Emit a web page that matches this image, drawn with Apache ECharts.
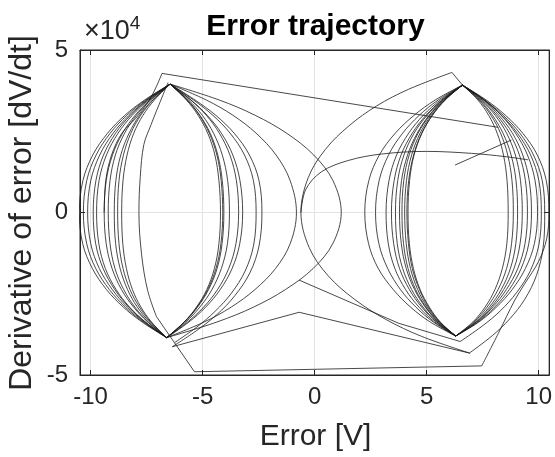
<!DOCTYPE html>
<html>
<head>
<meta charset="utf-8">
<script src="https://cdn.jsdelivr.net/npm/echarts@6/dist/echarts.min.js"></script>
<style>
  html, body { margin: 0; padding: 0; background: #ffffff; }
  #chart { width: 555px; height: 457px; }
</style>
</head>
<body>
<div id="chart"></div>
<script>
// Phase-plane trajectory of the regulation error.
// x: error e [V], y: de/dt in units of 1e4 V/s.

const xTicks = [-10, -5, 0, 5, 10];
const yTicks = [-5, 0, 5];

// Sample heights (de/dt) shared by the closed arcs of each lobe, bottom cusp to top cusp.
const leftLobeLevels  = [-3.85, -3.37, -2.91, -2.37, -1.72, -0.96, 0, 0.98, 1.77, 2.44, 2.99, 3.46, 3.95];
const rightLobeLevels = [-3.8, -3.37, -2.91, -2.37, -1.72, -0.96, 0, 0.98, 1.77, 2.44, 2.99, 3.46, 3.92];

// Left lobe, outer arcs: error at each level.
const leftLobeOuterX = [
  [-6.6, -7.70, -8.54, -9.29, -9.92, -10.35, -10.5, -10.34, -9.90, -9.24, -8.47, -7.59, -6.45],
  [-6.6, -7.65, -8.45, -9.16, -9.77, -10.17, -10.32, -10.17, -9.75, -9.12, -8.38, -7.54, -6.45],
  [-6.6, -7.60, -8.36, -9.03, -9.61, -9.99, -10.13, -9.99, -9.59, -8.99, -8.28, -7.49, -6.45],
  [-6.6, -7.56, -8.29, -8.92, -9.44, -9.77, -9.88, -9.76, -9.42, -8.88, -8.22, -7.46, -6.45],
  [-6.6, -7.55, -8.26, -8.86, -9.34, -9.63, -9.73, -9.62, -9.29, -8.77, -8.14, -7.41, -6.45],
  [-6.6, -7.45, -8.08, -8.62, -9.04, -9.30, -9.39, -9.30, -9.02, -8.57, -8.01, -7.35, -6.45],
  [-6.6, -7.42, -8.02, -8.52, -8.91, -9.13, -9.21, -9.13, -8.89, -8.48, -7.95, -7.32, -6.45],
  [-6.6, -7.36, -7.91, -8.35, -8.68, -8.88, -8.94, -8.87, -8.65, -8.28, -7.81, -7.24, -6.45],
  [-6.6, -7.31, -7.82, -8.24, -8.55, -8.73, -8.79, -8.73, -8.53, -8.20, -7.76, -7.21, -6.45],
  [-6.6, -7.28, -7.75, -8.13, -8.40, -8.56, -8.61, -8.55, -8.37, -8.07, -7.66, -7.15, -6.45]
];

// Left lobe, inner arcs.
const leftLobeInnerX = [
  [-6.6, -5.82, -5.27, -4.81, -4.47, -4.27, -4.2, -4.27, -4.45, -4.77, -5.20, -5.72, -6.45],
  [-6.6, -5.82, -5.25, -4.77, -4.40, -4.18, -4.1, -4.17, -4.36, -4.70, -5.14, -5.69, -6.45],
  [-6.6, -5.80, -5.22, -4.73, -4.35, -4.13, -4.05, -4.12, -4.32, -4.66, -5.12, -5.67, -6.45],
  [-6.6, -5.75, -5.12, -4.58, -4.16, -3.89, -3.8, -3.88, -4.12, -4.51, -5.01, -5.62, -6.45],
  [-6.6, -5.67, -4.95, -4.33, -3.83, -3.51, -3.39, -3.49, -3.78, -4.25, -4.83, -5.53, -6.45],
  [-6.6, -5.61, -4.86, -4.21, -3.68, -3.34, -3.21, -3.33, -3.65, -4.16, -4.79, -5.51, -6.45]
];

// Right lobe, inner arcs.
const rightLobeInnerX = [
  [6.3, 5.61, 5.12, 4.71, 4.41, 4.23, 4.17, 4.24, 4.44, 4.79, 5.25, 5.81, 6.6],
  [6.3, 5.59, 5.08, 4.68, 4.36, 4.19, 4.12, 4.20, 4.42, 4.78, 5.26, 5.83, 6.6],
  [6.3, 5.56, 5.03, 4.60, 4.28, 4.09, 4.02, 4.10, 4.33, 4.71, 5.20, 5.79, 6.6],
  [6.3, 5.52, 4.97, 4.51, 4.17, 3.97, 3.90, 3.98, 4.22, 4.62, 5.14, 5.75, 6.6],
  [6.3, 5.52, 4.94, 4.46, 4.09, 3.87, 3.79, 3.88, 4.15, 4.58, 5.11, 5.75, 6.6],
  [6.3, 5.46, 4.84, 4.33, 3.93, 3.69, 3.61, 3.71, 3.99, 4.44, 5.02, 5.70, 6.6],
  [6.3, 5.43, 4.78, 4.23, 3.79, 3.53, 3.43, 3.55, 3.86, 4.36, 4.97, 5.68, 6.6],
  [6.3, 5.36, 4.66, 4.06, 3.58, 3.29, 3.19, 3.32, 3.66, 4.20, 4.85, 5.61, 6.6],
  [6.3, 5.30, 4.52, 3.83, 3.26, 2.87, 2.72, 2.88, 3.30, 3.93, 4.67, 5.51, 6.6],
  [6.3, 5.16, 4.28, 3.51, 2.84, 2.41, 2.24, 2.42, 2.89, 3.60, 4.44, 5.38, 6.6]
];

// Right lobe, outer arcs.
const rightLobeOuterX = [
  [6.3, 7.06, 7.61, 8.05, 8.38, 8.58, 8.64, 8.59, 8.43, 8.15, 7.77, 7.29, 6.6],
  [6.3, 7.11, 7.70, 8.19, 8.57, 8.79, 8.87, 8.81, 8.62, 8.30, 7.87, 7.34, 6.6],
  [6.3, 7.17, 7.80, 8.33, 8.74, 8.98, 9.06, 8.99, 8.77, 8.41, 7.94, 7.38, 6.6],
  [6.3, 7.21, 7.88, 8.44, 8.90, 9.17, 9.27, 9.19, 8.96, 8.57, 8.06, 7.44, 6.6],
  [6.3, 7.24, 7.95, 8.56, 9.07, 9.39, 9.5, 9.41, 9.14, 8.70, 8.14, 7.48, 6.6],
  [6.3, 7.29, 8.04, 8.69, 9.22, 9.56, 9.68, 9.58, 9.29, 8.83, 8.23, 7.54, 6.6],
  [6.3, 7.33, 8.12, 8.82, 9.41, 9.81, 9.95, 9.84, 9.50, 8.97, 8.33, 7.58, 6.6]
];

// Arcs whose ends leave the usual cusps, given as (error, de/dt) pairs.
const strayArcs = [
  [[-6.24,-4.0],[-5.25,-3.52],[-4.44,-3.04],[-3.71,-2.48],[-3.10,-1.8],[-2.72,-1.0],[-2.61,0],[-2.73,0.98],[-3.13,1.77],[-3.77,2.44],[-4.54,2.99],[-5.40,3.46],[-6.45,3.95]],
  [[-6.35,-4.13],[-5.26,-3.63],[-4.36,-3.14],[-3.56,-2.56],[-2.89,-1.86],[-2.48,-1.03],[-2.35,0],[-2.48,0.98],[-2.91,1.77],[-3.59,2.44],[-4.41,2.99],[-5.33,3.46],[-6.45,3.95]],
  [[6.5,-3.97],[7.49,-3.49],[8.30,-3.02],[9.02,-2.46],[9.63,-1.79],[10.01,-0.99],[10.12,0],[10.01,0.98],[9.64,1.77],[9.05,2.44],[8.35,2.99],[7.56,3.46],[6.6,3.92]],
  [[6.94,-4.31],[7.93,-3.79],[8.70,-3.28],[9.38,-2.67],[9.90,-1.94],[10.20,-1.08],[10.27,0],[10.16,0.98],[9.77,1.77],[9.16,2.44],[8.42,2.99],[7.60,3.46],[6.6,3.92]],
  [[7.46,-4.72],[8.2,-3.72],[8.94,-2.69],[9.39,-2.18],[10.0,-1.5],[10.36,-0.8],[10.46,0],[10.34,0.98],[9.94,1.77],[9.29,2.44],[8.52,2.99],[7.66,3.46],[6.6,3.92]],
  [[-6.6,-3.85],[-4.93,-3.37],[-3.72,-2.91],[-2.66,-2.37],[-1.74,-1.72],[-1.09,-0.96],[-0.81,0],[-1.09,0.98],[-1.72,1.77],[-2.61,2.44],[-3.64,2.99],[-4.83,3.46],[-6.45,3.95]],
  [[-6.6,-3.85],[-4.36,-3.37],[-2.72,-2.91],[-1.30,-2.37],[-0.06,-1.72],[0.81,-0.96],[1.19,0],[0.82,0.98],[-0.04,1.77],[-1.25,2.44],[-2.65,2.99],[-4.25,3.46],[-6.45,3.95]],
  [[6.94,-4.33],[4.77,-3.81],[3.18,-3.29],[1.80,-2.68],[0.61,-1.95],[-0.24,-1.08],[-0.61,0],[-0.28,1.08],[0.48,1.94],[1.54,2.67],[2.77,3.28],[4.19,3.79],[6.13,4.31]],
  [[-0.61,0],[-0.4,0.7],[0.3,1.25],[1.5,1.6],[3.0,1.8],[5.0,1.88],[7.0,1.82],[8.5,1.72],[9.53,1.62]],
  [[-7.06,-3.2],[-7.45,-2.4],[-7.72,-1.3],[-7.84,0],[-7.78,1.1],[-7.62,2.09],[-7.3,2.7],[-7.06,3.12],[-6.54,4.0]],
  [[-9.39,0],[-9.32,0.98],[-9.06,1.77],[-8.6,2.44],[-7.98,2.9],[-7.3,3.55],[-6.81,4.28]]
];

// Coarse steps drawn as straight segments.
const jumpSegments = [
  [[-6.81,4.28],[8.2,2.62]],
  [[6.13,4.31],[6.6,3.92]],
  [[7.46,-4.72],[-5.36,-4.9],[-7.06,-3.2]],
  [[6.27,1.46],[8.78,2.23]],
  [[6.94,-4.33],[-0.69,-3.07],[-6.35,-4.13]],
  [[6.5,-3.97],[3.76,-3.41],[-0.69,-2.08]]
];

const traceColor = '#1a1a1a';
const fontFamily = '"Liberation Sans", Arial, Helvetica, sans-serif';

function zipLevels(xLists, levels) {
  return xLists.map(function (xs) {
    return xs.map(function (x, i) { return [x, levels[i]]; });
  });
}

function lineSeries(list, smooth) {
  return list.map(function (pts) {
    return {
      type: 'line',
      data: pts,
      smooth: smooth,
      showSymbol: false,
      symbol: 'none',
      silent: true,
      clip: true,
      lineStyle: { color: traceColor, width: 0.8 },
      animation: false
    };
  });
}

const series = [].concat(
  lineSeries(zipLevels(leftLobeOuterX, leftLobeLevels), 0.35),
  lineSeries(zipLevels(leftLobeInnerX, leftLobeLevels), 0.35),
  lineSeries(zipLevels(rightLobeInnerX, rightLobeLevels), 0.35),
  lineSeries(zipLevels(rightLobeOuterX, rightLobeLevels), 0.35),
  lineSeries(strayArcs, 0.35),
  lineSeries(jumpSegments, false)
);

const plotLeft = 80, plotTop = 50, plotWidth = 471, plotHeight = 325;

const chart = echarts.init(document.getElementById('chart'), null, { renderer: 'canvas' });

const axisLineStyle = { color: '#262626', width: 1 };

function frameAxis(extra) {
  return Object.assign({
    type: 'value',
    axisLine: { show: true, onZero: false, lineStyle: axisLineStyle },
    axisTick: { show: true, inside: true, length: 5, lineStyle: axisLineStyle },
    axisLabel: { show: false },
    splitLine: { show: false }
  }, extra);
}

chart.setOption({
  animation: false,
  backgroundColor: '#ffffff',
  grid: {
    left: plotLeft, top: plotTop, width: plotWidth, height: plotHeight,
    show: true, borderColor: '#262626', borderWidth: 1, backgroundColor: 'transparent'
  },
  xAxis: [
    frameAxis({
      min: -10.47, max: 10.47, splitNumber: 4,
      axisLabel: {
        show: true, color: '#262626', fontSize: 24, fontFamily: fontFamily, margin: 10,
        showMinLabel: false, showMaxLabel: false,
        formatter: function (v) { return xTicks.indexOf(v) >= 0 ? String(v) : ''; }
      },
      splitLine: { show: true, lineStyle: { color: '#e3e3e3', width: 1 } }
    }),
    frameAxis({ position: 'top', min: -10.47, max: 10.47, splitNumber: 4 })
  ],
  yAxis: [
    frameAxis({
      min: -5, max: 5, interval: 5,
      axisLabel: {
        show: true, color: '#262626', fontSize: 24, fontFamily: fontFamily, margin: 12,
        formatter: function (v) { return yTicks.indexOf(v) >= 0 ? String(v) : ''; }
      },
      splitLine: { show: true, lineStyle: { color: '#e3e3e3', width: 1 } }
    }),
    frameAxis({ position: 'right', min: -5, max: 5, interval: 5 })
  ],
  graphic: [
    {
      type: 'text', x: plotLeft + plotWidth / 2, y: 27,
      style: { text: 'Error trajectory', font: 'bold 30px ' + fontFamily, fill: '#000', textAlign: 'center', textVerticalAlign: 'middle' }
    },
    {
      type: 'text', x: plotLeft + plotWidth / 2, y: 437,
      style: { text: 'Error [V]', font: '30px ' + fontFamily, fill: '#262626', textAlign: 'center', textVerticalAlign: 'middle' }
    },
    {
      type: 'text', x: 22, y: 213, rotation: Math.PI / 2,
      style: { text: 'Derivative of error [dV/dt]', font: '32px ' + fontFamily, fill: '#262626', textAlign: 'center', textVerticalAlign: 'middle' }
    },
    {
      type: 'text', x: 84, y: 32,
      style: {
        text: '×10{sup|4}',
        font: '27px ' + fontFamily, fill: '#262626', textAlign: 'left', textVerticalAlign: 'middle',
        rich: { sup: { fontSize: 19, fontFamily: fontFamily, fill: '#262626', verticalAlign: 'top', padding: [0, 0, 16, 0] } }
      }
    }
  ],
  series: series
});
</script>
</body>
</html>
